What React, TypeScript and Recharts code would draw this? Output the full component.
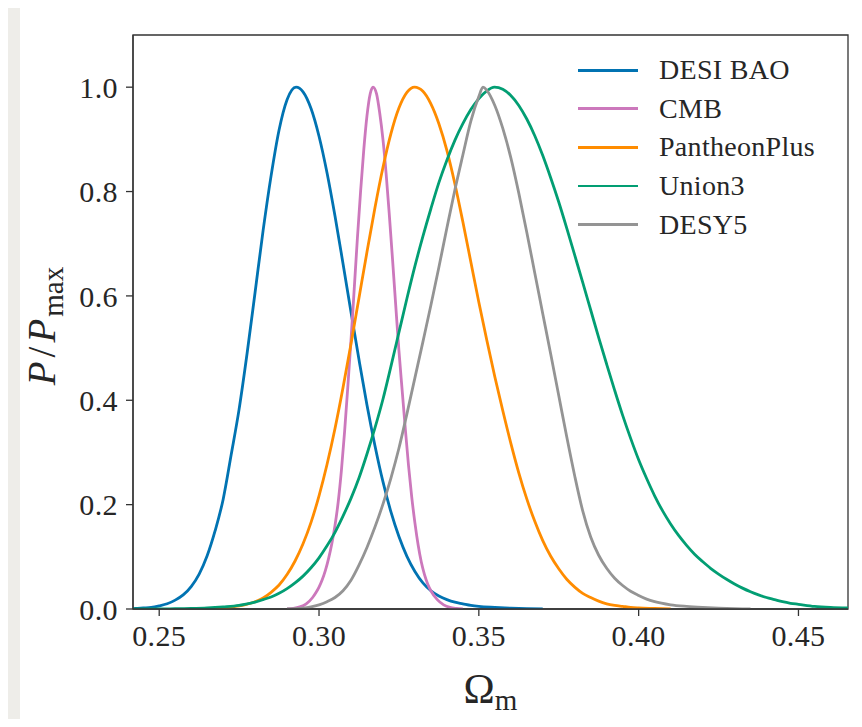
import React from "react";
import { LineChart, Line, XAxis, YAxis, ReferenceArea, Legend, Label } from "recharts";

// Normalised 1D posteriors P/Pmax of Omega_m, one (omega, P) pair of arrays per probe
const desiOmega = [0.2418, 0.2425, 0.245, 0.2475, 0.25, 0.2525, 0.255, 0.2575, 0.26, 0.2625, 0.265, 0.2675, 0.27, 0.2725, 0.275, 0.2775, 0.28, 0.2825, 0.285, 0.2875, 0.29, 0.2928, 0.295, 0.2975, 0.3, 0.3025, 0.305, 0.3075, 0.31, 0.3125, 0.315, 0.3175, 0.32, 0.3225, 0.325, 0.3275, 0.33, 0.3325, 0.335, 0.3375, 0.34, 0.3425, 0.345, 0.3475, 0.35, 0.355, 0.36, 0.365, 0.37];
const desiP = [0, 0.001, 0.002, 0.003, 0.006, 0.01, 0.017, 0.027, 0.043, 0.067, 0.102, 0.15, 0.21, 0.295, 0.383, 0.49, 0.607, 0.725, 0.83, 0.918, 0.976, 1.0, 0.991, 0.959, 0.906, 0.836, 0.753, 0.662, 0.569, 0.478, 0.391, 0.313, 0.244, 0.186, 0.139, 0.101, 0.072, 0.05, 0.035, 0.025, 0.018, 0.013, 0.01, 0.007, 0.005, 0.003, 0.0015, 0.0005, 0];

const cmbOmega = [0.29, 0.292, 0.294, 0.296, 0.298, 0.299, 0.3, 0.301, 0.302, 0.303, 0.304, 0.305, 0.306, 0.307, 0.308, 0.309, 0.31, 0.311, 0.312, 0.313, 0.314, 0.315, 0.316, 0.3169, 0.318, 0.319, 0.32, 0.321, 0.322, 0.323, 0.324, 0.325, 0.326, 0.327, 0.328, 0.329, 0.33, 0.331, 0.332, 0.333, 0.334, 0.335, 0.337, 0.339, 0.341, 0.343, 0.345];
const cmbP = [0, 0.001, 0.004, 0.01, 0.022, 0.031, 0.042, 0.056, 0.074, 0.097, 0.125, 0.16, 0.205, 0.265, 0.34, 0.425, 0.515, 0.612, 0.71, 0.8, 0.88, 0.945, 0.987, 1.0, 0.987, 0.95, 0.9, 0.834, 0.755, 0.67, 0.582, 0.495, 0.42, 0.345, 0.275, 0.215, 0.165, 0.123, 0.09, 0.066, 0.048, 0.035, 0.018, 0.008, 0.003, 0.001, 0];

const pantheonOmega = [0.26, 0.2625, 0.265, 0.2675, 0.27, 0.2725, 0.275, 0.2775, 0.28, 0.2825, 0.285, 0.2875, 0.29, 0.2925, 0.295, 0.2975, 0.3, 0.3025, 0.305, 0.3075, 0.31, 0.3125, 0.315, 0.3175, 0.32, 0.3225, 0.325, 0.3275, 0.3299, 0.3325, 0.335, 0.3375, 0.34, 0.3425, 0.345, 0.3475, 0.35, 0.3525, 0.355, 0.3575, 0.36, 0.3625, 0.365, 0.3675, 0.37, 0.3725, 0.375, 0.3775, 0.38, 0.3825, 0.385, 0.3875, 0.39, 0.3925, 0.395, 0.3975, 0.4, 0.405, 0.41];
const pantheonP = [0, 0.0004, 0.0007, 0.0013, 0.0022, 0.0036, 0.0058, 0.0091, 0.014, 0.021, 0.032, 0.046, 0.066, 0.092, 0.125, 0.166, 0.217, 0.277, 0.346, 0.424, 0.508, 0.596, 0.684, 0.769, 0.846, 0.911, 0.96, 0.99, 1.0, 0.992, 0.968, 0.93, 0.879, 0.815, 0.742, 0.665, 0.588, 0.515, 0.445, 0.38, 0.318, 0.261, 0.211, 0.168, 0.131, 0.101, 0.077, 0.057, 0.042, 0.03, 0.022, 0.015, 0.01, 0.007, 0.005, 0.003, 0.002, 0.001, 0];

const unionOmega = [0.2418, 0.25, 0.255, 0.26, 0.265, 0.27, 0.275, 0.2775, 0.28, 0.2825, 0.285, 0.2875, 0.29, 0.2925, 0.295, 0.2975, 0.3, 0.3025, 0.305, 0.3075, 0.31, 0.3125, 0.315, 0.3175, 0.32, 0.3225, 0.325, 0.3275, 0.33, 0.3325, 0.335, 0.3375, 0.34, 0.3425, 0.345, 0.3475, 0.35, 0.3525, 0.3549, 0.3575, 0.36, 0.3625, 0.365, 0.3675, 0.37, 0.3725, 0.375, 0.3775, 0.38, 0.3825, 0.385, 0.3875, 0.39, 0.3925, 0.395, 0.3975, 0.4, 0.4025, 0.405, 0.4075, 0.41, 0.4125, 0.415, 0.4175, 0.42, 0.4225, 0.425, 0.4275, 0.43, 0.4325, 0.435, 0.4375, 0.44, 0.4425, 0.445, 0.4475, 0.45, 0.455, 0.46, 0.4655];
const unionP = [0, 0, 0.0005, 0.001, 0.002, 0.004, 0.007, 0.01, 0.013, 0.018, 0.023, 0.03, 0.039, 0.05, 0.063, 0.079, 0.098, 0.121, 0.147, 0.178, 0.212, 0.251, 0.297, 0.347, 0.402, 0.465, 0.53, 0.595, 0.657, 0.714, 0.767, 0.817, 0.86, 0.898, 0.93, 0.957, 0.978, 0.993, 1.0, 0.996, 0.984, 0.965, 0.939, 0.907, 0.869, 0.826, 0.78, 0.73, 0.678, 0.626, 0.573, 0.52, 0.469, 0.419, 0.371, 0.327, 0.286, 0.25, 0.217, 0.188, 0.163, 0.141, 0.122, 0.105, 0.091, 0.078, 0.067, 0.057, 0.048, 0.04, 0.033, 0.027, 0.022, 0.018, 0.014, 0.011, 0.009, 0.005, 0.003, 0.002];

const desyOmega = [0.29, 0.2925, 0.295, 0.2975, 0.3, 0.3025, 0.305, 0.3075, 0.31, 0.3125, 0.315, 0.3175, 0.32, 0.3225, 0.325, 0.3275, 0.33, 0.3325, 0.335, 0.3375, 0.34, 0.3425, 0.345, 0.3475, 0.35, 0.3513, 0.3525, 0.355, 0.3575, 0.36, 0.3625, 0.365, 0.3675, 0.37, 0.3725, 0.375, 0.3775, 0.38, 0.3825, 0.385, 0.3875, 0.39, 0.3925, 0.395, 0.3975, 0.4, 0.4025, 0.405, 0.41, 0.415, 0.42, 0.425, 0.43, 0.435];
const desyP = [0, 0.0005, 0.0015, 0.004, 0.008, 0.014, 0.022, 0.035, 0.055, 0.084, 0.118, 0.157, 0.201, 0.251, 0.308, 0.374, 0.443, 0.512, 0.582, 0.655, 0.73, 0.803, 0.87, 0.935, 0.982, 1.0, 0.994, 0.965, 0.921, 0.865, 0.797, 0.722, 0.644, 0.566, 0.488, 0.409, 0.33, 0.255, 0.188, 0.138, 0.103, 0.078, 0.059, 0.045, 0.034, 0.026, 0.019, 0.014, 0.008, 0.005, 0.003, 0.0015, 0.0005, 0];

const xTicks = [0.25, 0.3, 0.35, 0.4, 0.45];
const yTicks = [0, 0.2, 0.4, 0.6, 0.8, 1.0];
const xDomain: [number, number] = [0.2418, 0.4655];
const yDomain: [number, number] = [0, 1.1];

const FONT = '"Liberation Serif", "DejaVu Serif", serif';
const INK = "#262626";
const SPINE = "#333333";

const toPoints = (omega: number[], p: number[]) => omega.map((x, i) => ({ x, y: p[i] }));

const series = [
  { name: "DESI BAO", color: "#0173b2", data: toPoints(desiOmega, desiP) },
  { name: "CMB", color: "#cc78bc", data: toPoints(cmbOmega, cmbP) },
  { name: "PantheonPlus", color: "#ff8c00", data: toPoints(pantheonOmega, pantheonP) },
  { name: "Union3", color: "#029e73", data: toPoints(unionOmega, unionP) },
  { name: "DESY5", color: "#949494", data: toPoints(desyOmega, desyP) },
];

function YLabel(props: any) {
  const { x, y, height } = props.viewBox;
  const cx = x + 55;
  const cy = y + height / 2 + 4;
  return (
    <text
      transform={`translate(${cx},${cy}) rotate(-90)`}
      textAnchor="middle"
      fontFamily={FONT}
      fontSize={39}
      fill={INK}
    >
      <tspan fontStyle="italic">P</tspan>
      <tspan dx={4}>/</tspan>
      <tspan dx={4} fontStyle="italic">P</tspan>
      <tspan fontSize={29} dx={2} dy={8}>max</tspan>
    </text>
  );
}

function XLabel(props: any) {
  const { x, y, width } = props.viewBox;
  return (
    <text x={x + width / 2} y={y + 94} textAnchor="middle" fontFamily={FONT} fontSize={42} fill={INK}>
      <tspan>Ω</tspan>
      <tspan fontSize={29} dy={7}>m</tspan>
    </text>
  );
}

function LegendBox() {
  return (
    <div style={{ fontFamily: FONT, fontSize: 28, letterSpacing: 0.3, color: INK }}>
      {series.map((s) => (
        <div key={s.name} style={{ display: "flex", alignItems: "center", height: 38.6 }}>
          <div style={{ width: 60, height: 2.8, background: s.color, marginRight: 21 }} />
          <span style={{ lineHeight: 1 }}>{s.name}</span>
        </div>
      ))}
    </div>
  );
}

export default function App() {
  return (
    <div style={{ position: "relative", width: 862, height: 727, margin: -8, background: "#eeede9", overflow: "hidden" }}>
      <div style={{ position: "absolute", left: 20, top: 5, right: 0, bottom: 0, background: "#ffffff" }} />
      <div style={{ position: "absolute", left: 0, top: 0 }}>
        <LineChart width={862} height={727} margin={{ top: 35, right: 14, left: 0, bottom: 0 }}>
          <XAxis
            dataKey="x"
            type="number"
            domain={xDomain}
            ticks={xTicks}
            allowDataOverflow
            height={118}
            tickSize={7}
            tickMargin={9}
            tickFormatter={(v: number) => v.toFixed(2)}
            stroke={SPINE}
            strokeWidth={1.3}
            tick={{ fontFamily: FONT, fontSize: 30, fill: INK, letterSpacing: 0.4 }}
          >
            <Label content={<XLabel />} />
          </XAxis>
          <YAxis
            type="number"
            domain={yDomain}
            ticks={yTicks}
            allowDataOverflow
            width={133}
            tickSize={7}
            tickMargin={8}
            tickFormatter={(v: number) => v.toFixed(1)}
            stroke={SPINE}
            strokeWidth={1.3}
            tick={{ fontFamily: FONT, fontSize: 30, fill: INK, letterSpacing: 0.4 }}
          >
            <Label content={<YLabel />} />
          </YAxis>
          {series.map((s) => (
            <Line
              key={s.name}
              name={s.name}
              data={s.data}
              dataKey="y"
              type="monotone"
              stroke={s.color}
              strokeWidth={2.8}
              dot={false}
              activeDot={false}
              isAnimationActive={false}
            />
          ))}
          <ReferenceArea
            x1={xDomain[0]}
            x2={xDomain[1]}
            y1={yDomain[0]}
            y2={yDomain[1]}
            fill="none"
            stroke={SPINE}
            strokeWidth={1.3}
            ifOverflow="visible"
          />
          <Legend
            layout="vertical"
            align="center"
            verticalAlign="middle"
            content={<LegendBox />}
            wrapperStyle={{ top: 51, left: 578, width: 270 }}
          />
        </LineChart>
      </div>
    </div>
  );
}
